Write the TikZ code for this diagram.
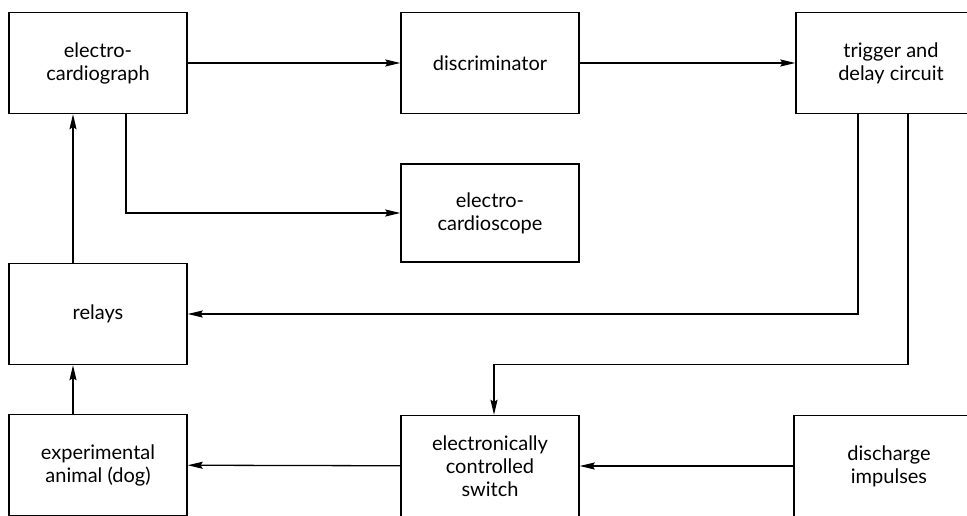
\documentclass[tikz,border=0pt]{standalone}
\usepackage{fontspec}
\setmainfont{Lato}
\usetikzlibrary{positioning,arrows.meta}

\begin{document}
\begin{tikzpicture}[x=1pt, y=-1pt,
        block/.style={draw, line width=1.4pt, minimum width=178pt, minimum height=101pt, align=center, font=\fontsize{20}{23}\selectfont},
        wideblock/.style={block, minimum width=190pt},
        flow/.style={-{Stealth[length=15pt, width=7pt, inset=2pt]}, line width=1.3pt}]
                \useasboundingbox (0,0) rectangle (967,516);
                \clip (0,0) rectangle (967,516);
                \node [block] (ecg) at (98,63) {electro-\\cardiograph};
                \node [block] (discr) at (490,63) {discriminator};
                \node [wideblock] (trigger) at (891,63) {trigger and\\delay circuit};
                \node [block, minimum height=98pt] (scope) at (490,213) {electro-\\cardioscope};
                \node [block] (relays) at (98,314) {relays};
                \node [block] (animal) at (98,465) {experimental\\animal (dog)};
                \node [block] (switch) at (490,466) {electronically\\controlled\\switch};
                \node [wideblock] (impulses) at (889,466) {discharge\\impulses};
                \draw [flow] (ecg) -- (discr);
                \draw [flow] (discr) -- (trigger);
                \draw [flow] ([xshift=28pt]ecg.south) |- (scope.west);
                \draw [flow] ([xshift=-25pt]relays.north) -- ([xshift=-25pt]ecg.south);
                \draw [flow] ([xshift=-25pt]animal.north) -- ([xshift=-25pt]relays.south);
                \draw [flow] ([xshift=-33pt]trigger.south) |- (relays.east);
                \draw [flow] ([xshift=17pt]trigger.south) |- ([xshift=4pt, yshift=50pt]switch.north) -- ([xshift=4pt]switch.north);
                \draw [flow] (switch) -- (animal);
                \draw [flow] (impulses) -- (switch);
            \end{tikzpicture}
\end{document}
